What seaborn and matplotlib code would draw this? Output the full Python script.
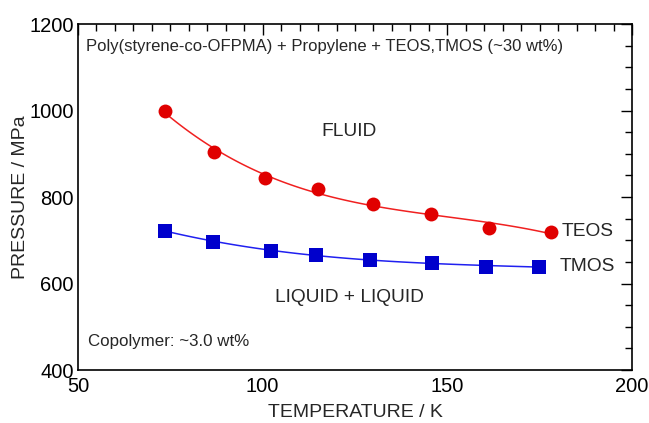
import matplotlib
matplotlib.use("Agg")
import matplotlib.pyplot as plt
import seaborn as sns
import numpy as np
import pandas as pd
from matplotlib.ticker import MultipleLocator

teos_T = [73.6, 86.8, 100.6, 115.0, 129.9, 145.6, 161.3, 178.1]
teos_P = [1000, 904, 845, 818, 784, 761, 729, 720]
tmos_T = [73.6, 86.6, 102.3, 114.4, 129.1, 145.9, 160.5, 174.8]
tmos_P = [722, 697, 676, 666, 654, 648, 639, 639]

sns.set_style("white")
plt.rcParams['font.family'] = ['Liberation Sans', 'DejaVu Sans']

fig = plt.figure(figsize=(6.49, 4.23), dpi=100)
ax = fig.add_axes([78/649, 1-370/423, (632-78)/649, (370-24)/423])

red = "#e00000"
blue = "#0000cc"
red_line = "#f02020"
blue_line = "#2020f0"
df_teos = pd.DataFrame({"T": teos_T, "P": teos_P})
df_tmos = pd.DataFrame({"T": tmos_T, "P": tmos_P})

sns.regplot(data=df_teos, x="T", y="P", order=3, ci=None, ax=ax,
            scatter_kws=dict(s=0), line_kws=dict(color=red_line, lw=1.1))
sns.regplot(data=df_tmos, x="T", y="P", order=3, ci=None, ax=ax,
            scatter_kws=dict(s=0), line_kws=dict(color=blue_line, lw=1.1))
sns.scatterplot(data=df_teos, x="T", y="P", ax=ax, marker="o", s=100,
                color=red, edgecolor=red, linewidth=0, zorder=5)
sns.scatterplot(data=df_tmos, x="T", y="P", ax=ax, marker="s", s=90,
                color=blue, edgecolor=blue, linewidth=0, zorder=5)

ax.set_xlim(50, 200)
ax.set_ylim(400, 1200)
ax.xaxis.set_major_locator(MultipleLocator(50))
ax.xaxis.set_minor_locator(MultipleLocator(5))
ax.yaxis.set_major_locator(MultipleLocator(200))
ax.yaxis.set_minor_locator(MultipleLocator(50))
ax.tick_params(which="both", direction="in", top=True, right=True,
               labelsize=14.5, colors="black", width=1.0)
ax.tick_params(which="major", length=8)
ax.tick_params(axis="x", which="major", pad=5)
ax.tick_params(axis="y", which="major", pad=3)
ax.tick_params(which="minor", length=5)
for s in ax.spines.values():
    s.set_color("black")
    s.set_linewidth(1.2)

ax.set_xlabel("TEMPERATURE / K", fontsize=14, labelpad=6)
ax.set_ylabel("PRESSURE / MPa", fontsize=14, labelpad=0)

ax.text(0.015, 0.935, "Poly(styrene-co-OFPMA) + Propylene + TEOS,TMOS (~30 wt%)",
        transform=ax.transAxes, fontsize=12, va="center", ha="left")
ax.text(0.018, 0.082, "Copolymer: ~3.0 wt%", transform=ax.transAxes,
        fontsize=12.2, va="center", ha="left")
ax.text(0.49, 0.69, "FLUID", transform=ax.transAxes, fontsize=13.8,
        va="center", ha="center")
ax.text(0.49, 0.21, "LIQUID + LIQUID", transform=ax.transAxes, fontsize=13.8,
        va="center", ha="center")
ax.text(181, 720, "TEOS", fontsize=13.8, va="center", ha="left")
ax.text(180.5, 639, "TMOS", fontsize=13.8, va="center", ha="left")

fig.savefig("out.png", dpi=100)
